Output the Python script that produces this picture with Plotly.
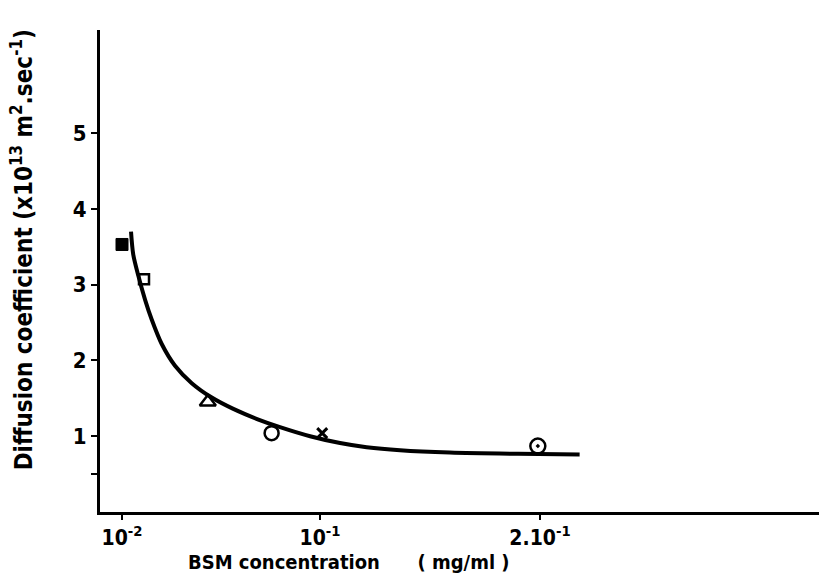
import plotly.graph_objects as go

# Data points (BSM concentration mg/ml, diffusion coefficient x1e-13 m^2/s)
pt_filled_sq = ([0.010], [3.53])
pt_open_sq = ([0.020], [3.07])
pt_triangle = ([0.049], [1.45])
pt_circle = ([0.078], [1.04])
pt_cross = ([0.101], [1.04])
pt_circle_dot = ([0.199], [0.87])

# Fitted curve
curve_x = [0.0141, 0.0151, 0.0174, 0.0205, 0.0235, 0.0280, 0.0341, 0.0417,
           0.0508, 0.0606, 0.0720, 0.0818, 0.0955, 0.1091, 0.1212, 0.1364,
           0.1590, 0.1900, 0.2180]
curve_y = [3.70, 3.40, 3.12, 2.80, 2.54, 2.22, 1.93, 1.70,
           1.51, 1.36, 1.22, 1.12, 1.00, 0.91, 0.855, 0.815,
           0.785, 0.768, 0.760]

x_tickvals = [0.01, 0.1, 0.2]
x_ticktext = ["10<sup>-2</sup>", "10<sup>-1</sup>", "2.10<sup>-1</sup>"]
y_tickvals = [0.5, 1, 2, 3, 4, 5]
y_ticktext = ["", "1", "2", "3", "4", "5"]

FONT = "DejaVu Sans Condensed, Liberation Sans Narrow, DejaVu Sans, sans-serif"

fig = go.Figure()
fig.add_trace(go.Scatter(x=curve_x, y=curve_y, mode="lines",
                         line=dict(color="black", width=4, shape="spline", smoothing=0.8),
                         hoverinfo="skip", showlegend=False))

fig.add_trace(go.Scatter(x=pt_filled_sq[0], y=pt_filled_sq[1], mode="markers", showlegend=False,
                         marker=dict(symbol="square", size=12, color="black",
                                     line=dict(color="black", width=1))))
fig.add_trace(go.Scatter(x=pt_open_sq[0], y=pt_open_sq[1], mode="markers", showlegend=False,
                         marker=dict(symbol="square-open", size=10, color="black",
                                     line=dict(width=2.5))))
fig.add_trace(go.Scatter(x=pt_triangle[0], y=pt_triangle[1], mode="markers", showlegend=False,
                         marker=dict(symbol="triangle-up-open", size=14, color="black",
                                     line=dict(width=2.5))))
fig.add_trace(go.Scatter(x=pt_circle[0], y=pt_circle[1], mode="markers", showlegend=False,
                         marker=dict(symbol="circle-open", size=14, color="black",
                                     line=dict(width=2.5))))
fig.add_trace(go.Scatter(x=pt_cross[0], y=pt_cross[1], mode="markers", showlegend=False,
                         marker=dict(symbol="x-thin-open", size=10, color="black",
                                     line=dict(width=3))))
fig.add_trace(go.Scatter(x=pt_circle_dot[0], y=pt_circle_dot[1], mode="markers", showlegend=False,
                         marker=dict(symbol="circle-open-dot", size=15, color="black",
                                     line=dict(width=2.5))))

fig.update_layout(
    width=819, height=577,
    margin=dict(l=100, r=0, t=30, b=65),
    paper_bgcolor="white", plot_bgcolor="white",
    font=dict(family=FONT, color="black", size=18, weight="bold"),
    xaxis=dict(range=[0, 0.3268], showgrid=False, zeroline=False,
               showline=True, linecolor="black", linewidth=3,
               ticks="outside", ticklen=5, tickwidth=2, tickcolor="black",
               tickvals=x_tickvals, ticktext=x_ticktext,
               tickfont=dict(family=FONT, size=21, weight="bold")),
    yaxis=dict(range=[0, 6.36], showgrid=False, zeroline=False,
               showline=True, linecolor="black", linewidth=3,
               ticks="outside", ticklen=6, tickwidth=2, tickcolor="black",
               tickvals=y_tickvals, ticktext=y_ticktext,
               tickfont=dict(family=FONT, size=22, weight="bold")),
    annotations=[
        dict(text="BSM concentration\u00a0\u00a0\u00a0\u00a0\u00a0\u00a0( mg/ml )",
             xref="paper", yref="paper", x=(349 - 100) / 719, y=(512 - 562) / 482,
             xanchor="center", yanchor="middle", showarrow=False,
             font=dict(family=FONT, size=20, weight="bold")),
        dict(text="Diffusion coefficient (x10<sup>13</sup> m<sup>2</sup>.sec<sup>-1</sup>)",
             xref="paper", yref="paper", x=-0.108, y=(512 - 250) / 482,
             xanchor="center", yanchor="middle", textangle=-90, showarrow=False,
             font=dict(family=FONT, size=24, weight="bold")),
    ],
)

fig.write_html("out.html")
